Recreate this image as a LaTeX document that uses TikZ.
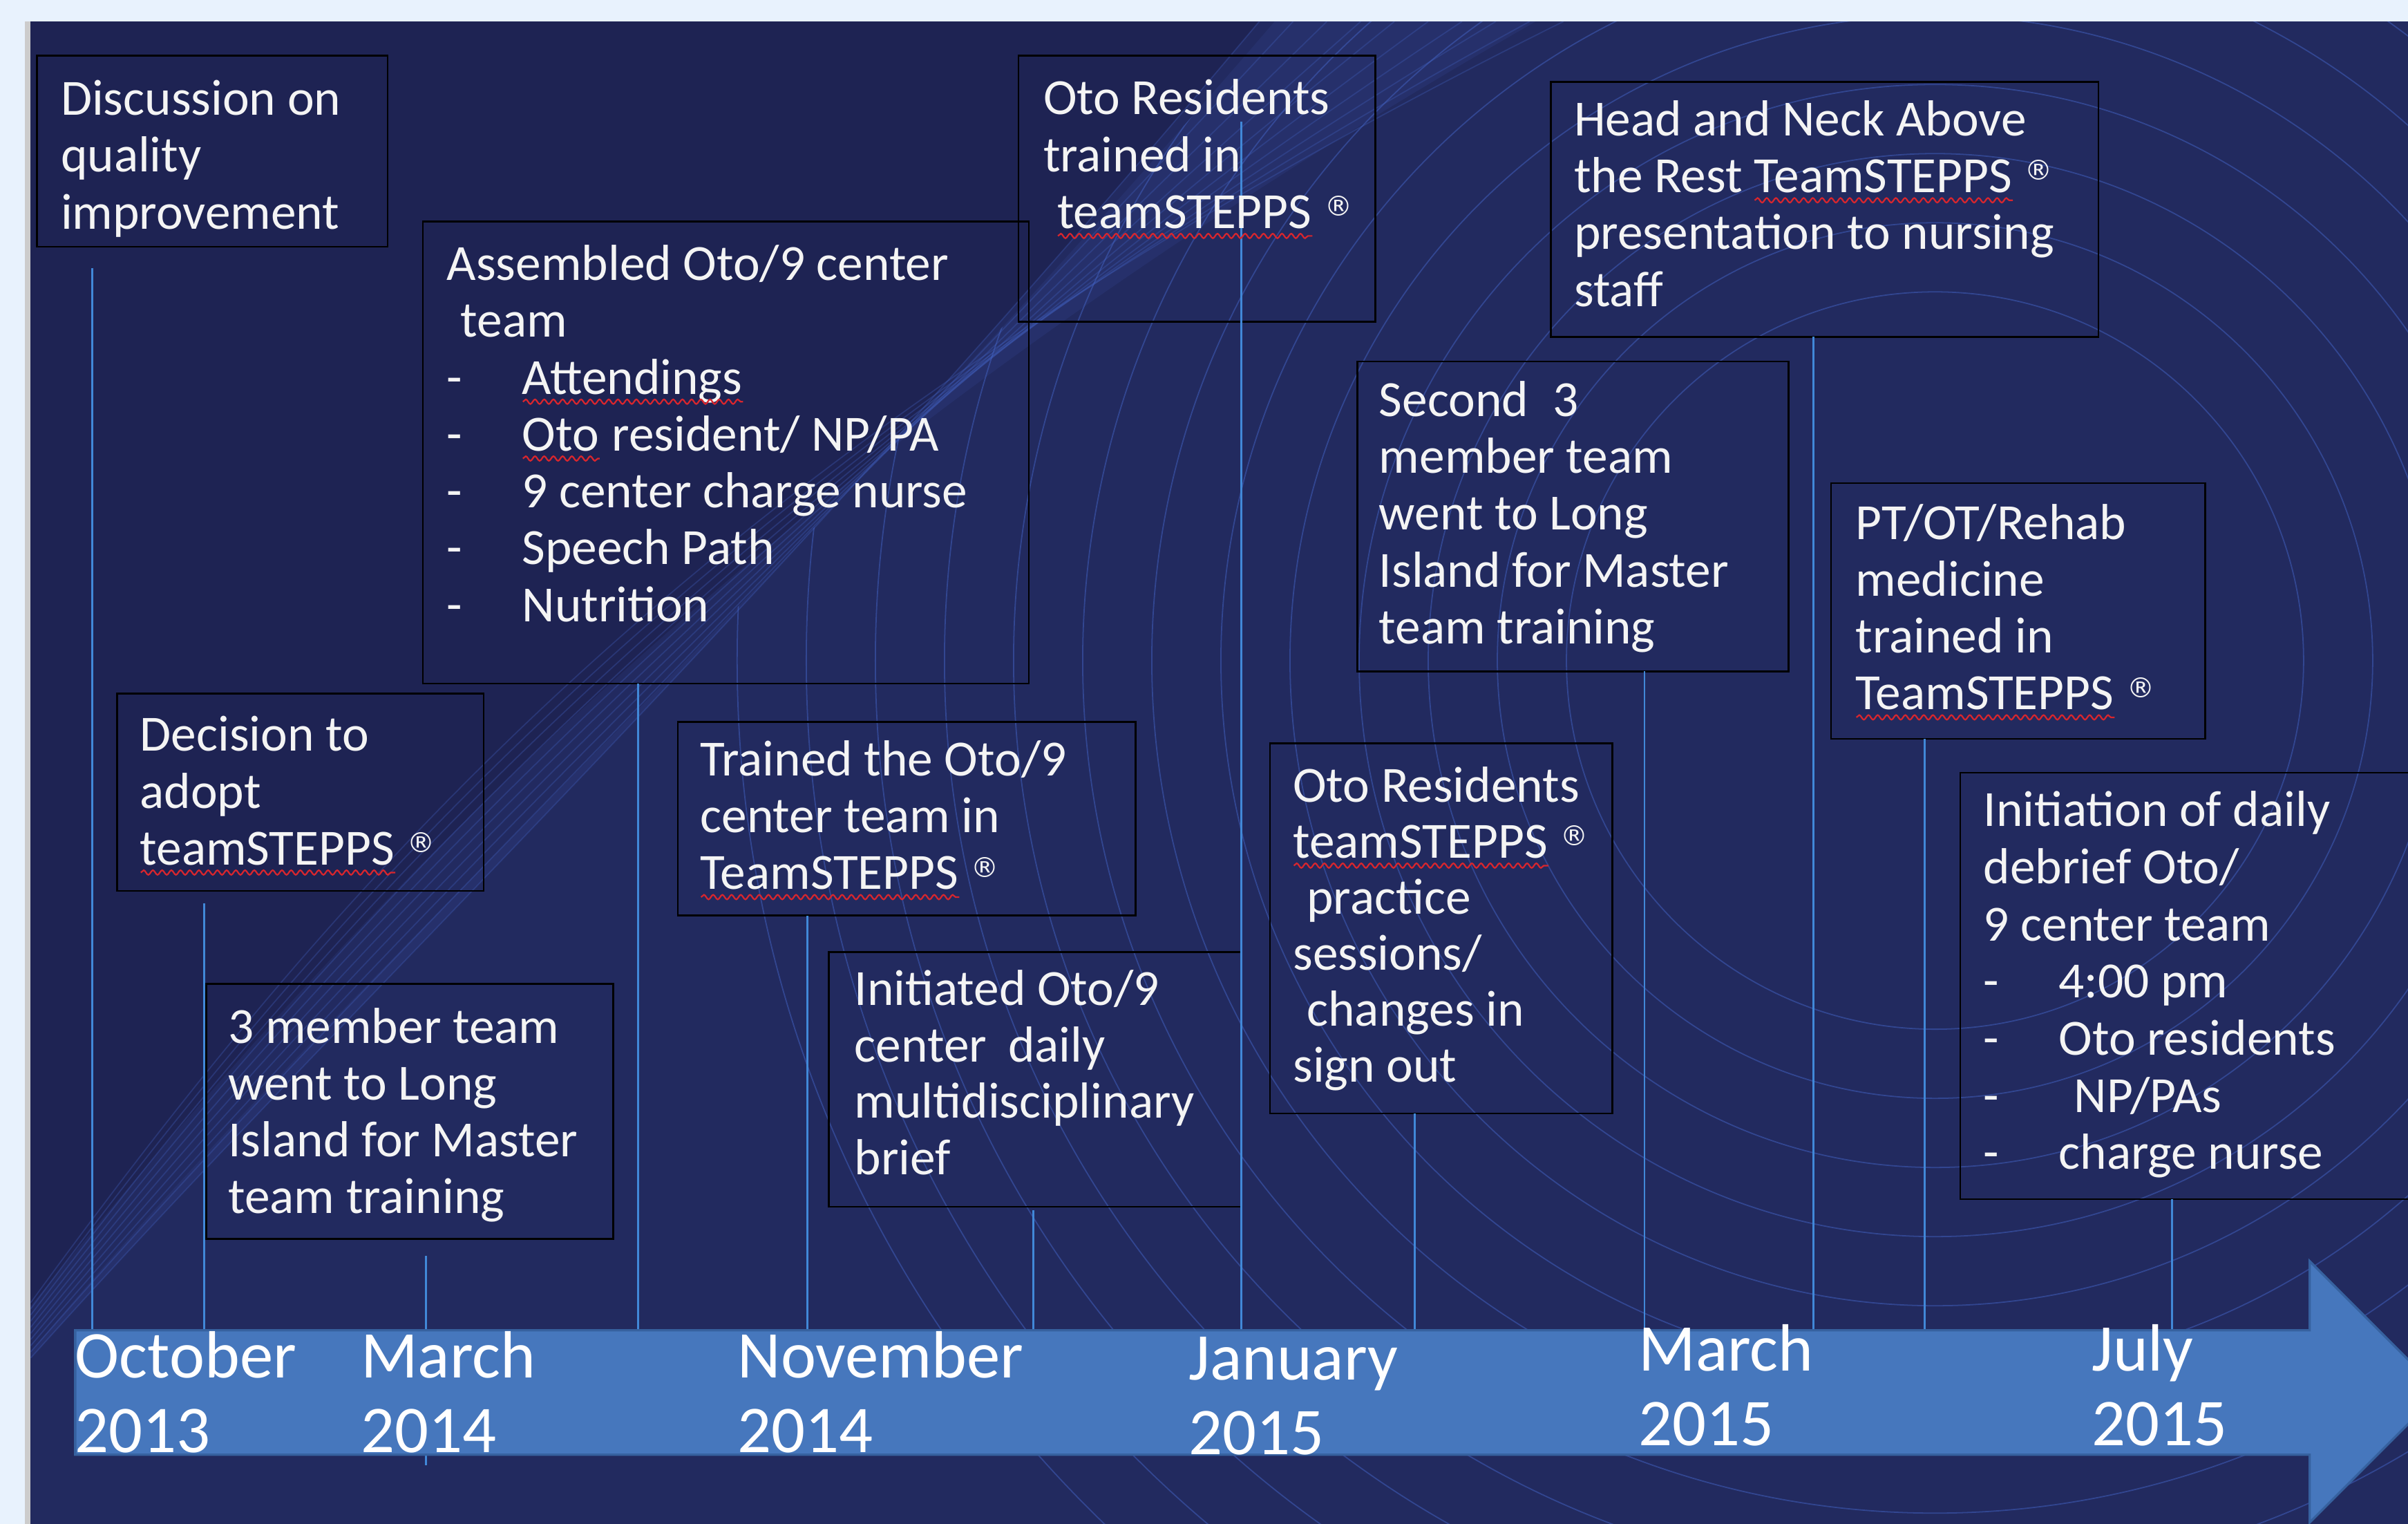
\documentclass[tikz,border=0pt]{standalone}
\usepackage{fontspec}
\setmainfont{Carlito}
\newfontfamily\regfont{DejaVu Sans}
\usetikzlibrary{decorations.pathmorphing,calc}
\definecolor{pagebg}{HTML}{E8F2FD}
\definecolor{navy}{HTML}{1E2353}
\definecolor{navylight}{HTML}{222A5F}
\definecolor{swoosh}{HTML}{4363C4}
\definecolor{arrowblue}{HTML}{4677BD}
\definecolor{arrowedge}{HTML}{36619F}
\definecolor{tickblue}{HTML}{4188D8}
\definecolor{squig}{HTML}{D8262E}
\definecolor{txtwhite}{HTML}{F4F4F4}
\newsavebox\sqbox
\newlength\sqlen
\newcommand\sq[1]{\sbox\sqbox{#1}\setlength\sqlen{\wd\sqbox}\usebox\sqbox\hspace{-\sqlen}\tikz[baseline=0pt]\draw[squig,line width=1pt,decorate,decoration={snake,amplitude=1.5pt,segment length=6pt}] (0pt,-5pt) -- (\sqlen,-5pt);}
\newcommand\reg{\raisebox{8pt}{\regfont\fontsize{18}{18}\selectfont ®}}
\newcommand\li[1]{\makebox[49pt][l]{-}#1}
\begin{document}
\begin{tikzpicture}[x=1pt,y=-1pt,
  evbox/.style={draw=black,line width=1.2pt,inner sep=0pt,outer sep=0pt,anchor=north west},
  txt/.style={anchor=base west,inner sep=0pt,outer sep=0pt,text=txtwhite,font=\fontsize{33}{37}\selectfont},
  datelbl/.style={anchor=base west,inner sep=0pt,outer sep=0pt,text=white,font=\fontsize{43.5}{48.5}\selectfont},
  tick/.style={draw=tickblue,line width=1.3pt},
  swirl/.style={draw=swoosh,line width=0.8pt,opacity=0.3}]
\useasboundingbox (0,0) rectangle (1568,992);
\clip (0,0) rectangle (1568,992);
% background
\fill[pagebg] (0,0) rectangle (1568,992);
\fill[gray!40] (16,14) rectangle (21,992);
\fill[navy] (20,14) rectangle (1568,992);
\fill[navylight] (20,992) -- (20,880) .. controls (220,640) and (480,420) .. (830,14) -- (1568,14) -- (1568,992) -- cycle;
\begin{scope}
  \clip (20,14) rectangle (1568,992);
  \fill[swoosh,opacity=0.12] (20,884) .. controls (230,650) and (470,430) .. (820,14) -- (1000,14) .. controls (500,300) and (240,580) .. (20,850) -- cycle;
  \foreach \i in {0,...,9}
    \draw[swirl] (20,{884-4*\i}) .. controls (230,{650-10*\i}) and (470,{430-16*\i}) .. ({820+22*\i},14);
  \begin{scope}
    \clip (20,992) -- (20,880) .. controls (220,640) and (480,420) .. (830,14) -- (1568,14) -- (1568,992) -- cycle;
    \foreach \r in {240,285,...,780}
      \draw[swirl,opacity=0.5] (1260,430) circle[radius=\r];
  \end{scope}
\end{scope}
% event boxes
\node[evbox,minimum width=228.3pt,minimum height=124.4pt] (b1) at (24.1,36.3) {};
\node[evbox,minimum width=394.6pt,minimum height=300.9pt] (b2) at (275.4,144.1) {};
\node[evbox,minimum width=232.3pt,minimum height=173pt] (b3) at (663.2,36.3) {};
\node[evbox,minimum width=356.6pt,minimum height=166pt] (b4) at (1009.8,53.3) {};
\node[evbox,minimum width=280.5pt,minimum height=201.8pt] (b5) at (884,235.3) {};
\node[evbox,minimum width=243.7pt,minimum height=166.5pt] (b6) at (1192.3,314.5) {};
\node[evbox,minimum width=238.6pt,minimum height=128.6pt] (b7) at (76.4,451.4) {};
\node[evbox,minimum width=298pt,minimum height=126pt] (b8) at (441.3,470) {};
\node[evbox,minimum width=223pt,minimum height=241pt] (b9) at (827,483.8) {};
\node[evbox,minimum width=330pt,minimum height=277.6pt] (b10) at (1276.5,503) {};
\node[evbox,minimum width=265.1pt,minimum height=166pt] (b11) at (134.2,640.5) {};
\node[evbox,minimum width=268.6pt,minimum height=165.8pt] (b12) at (539.7,619.8) {};
% timeline connectors
\coordinate (axis) at (0,867);
\coordinate (below) at (0,954);
\path ([xshift=36.1pt,yshift=-13.8pt]b1.south west) coordinate (u1);
\path ([xshift=56.4pt,yshift=-8pt]b7.south west) coordinate (u2);
\path ([xshift=143.2pt,yshift=-11pt]b11.south west) coordinate (u3);
\path ([xshift=140.3pt]b2.south west) coordinate (u4);
\path ([xshift=84.4pt]b8.south west) coordinate (u5);
\path ([xshift=133.3pt,yshift=-2.4pt]b12.south west) coordinate (u6);
\path ([xshift=145.2pt,yshift=-42.9pt]b3.north west) coordinate (u7);
\path ([xshift=94.2pt]b9.south west) coordinate (u8);
\path ([xshift=186.8pt]b5.south west) coordinate (u9);
\path ([xshift=171.2pt]b4.south west) coordinate (u10);
\path ([xshift=61pt]b6.south west) coordinate (u11);
\path ([xshift=138pt]b10.south west) coordinate (u12);
\foreach \u in {u1,u2,u4,u5,u6,u7,u8,u9,u10,u11,u12}
  \draw[tick] (\u) -- (\u |- axis);
\draw[tick] (u3) -- (u3 |- below);
% timeline arrow
\fill[arrowblue,draw=arrowedge,line width=1.5pt] (49,866) -- (1504,866) -- (1504,821) -- (1589,906) -- (1504,991) -- (1504,947) -- (49,947) -- cycle;
% texts
\node[txt] (t1) at (39.6,75) {\parbox[t]{300pt}{Discussion on\\quality\\improvement}};
\node[txt] (t2) at (291,182.5) {\parbox[t]{400pt}{Assembled Oto/9 center\\\hspace*{9pt}team\\\li{\sq{Attendings}}\\\li{\sq{Oto} resident/ NP/PA}\\\li{9 center charge nurse}\\\li{Speech Path}\\\li{Nutrition}}};
\node[txt] (t3) at (679.4,74.6) {\parbox[t]{300pt}{Oto Residents\\trained in\\\hspace*{9pt}\sq{teamSTEPPS} \reg}};
\node[txt] (t4) at (1025,88.4) {\parbox[t]{400pt}{Head and Neck Above\\the Rest \sq{TeamSTEPPS} \reg\\presentation to nursing\\staff}};
\node[txt] (t5) at (898,271) {\parbox[t]{300pt}{Second\hspace{16pt}3\\member team\\went to Long\\Island for Master\\team training}};
\node[txt] (t6) at (1208.3,351) {\parbox[t]{300pt}{PT/OT/Rehab\\medicine\\trained in\\\sq{TeamSTEPPS} \reg}};
\node[txt] (t7) at (91.2,489) {\parbox[t]{300pt}{Decision to\\adopt\\\sq{teamSTEPPS} \reg}};
\node[txt] (t8) at (456,505) {\parbox[t]{300pt}{Trained the Oto/9\\center team in\\\sq{TeamSTEPPS} \reg}};
\node[txt,font=\fontsize{33}{36.5}\selectfont] (t9) at (842,522) {\parbox[t]{300pt}{Oto Residents\\\sq{teamSTEPPS} \reg\\\hspace*{9pt}practice\\sessions/\\\hspace*{9pt}changes in\\sign out}};
\node[txt,font=\fontsize{33}{37.2}\selectfont] (t10) at (1291.6,538) {\parbox[t]{300pt}{Initiation of daily\\debrief Oto/\\9 center team\\\li{4:00 pm}\\\li{Oto residents}\\\li{\hspace*{10pt}NP/PAs}\\\li{charge nurse}}};
\node[txt] (t11) at (148.7,679) {\parbox[t]{300pt}{3 member team\\went to Long\\Island for Master\\team training}};
\node[txt,font=\fontsize{33}{36.7}\selectfont] (t12) at (556.5,654.5) {\parbox[t]{300pt}{Initiated Oto/9\\center\hspace{14pt}daily\\multidisciplinary\\brief}};
% dates
\node[datelbl] (d1) at (49,897) {\parbox[t]{250pt}{October\\2013}};
\node[datelbl] (d2) at (235,897) {\parbox[t]{250pt}{March\\2014}};
\node[datelbl] (d3) at (480.4,897) {\parbox[t]{250pt}{November\\2014}};
\node[datelbl] (d4) at (774,898.4) {\parbox[t]{250pt}{January\\2015}};
\node[datelbl] (d5) at (1067,892.4) {\parbox[t]{250pt}{March\\2015}};
\node[datelbl] (d6) at (1362,892.4) {\parbox[t]{250pt}{July\\2015}};
\end{tikzpicture}
\end{document}
